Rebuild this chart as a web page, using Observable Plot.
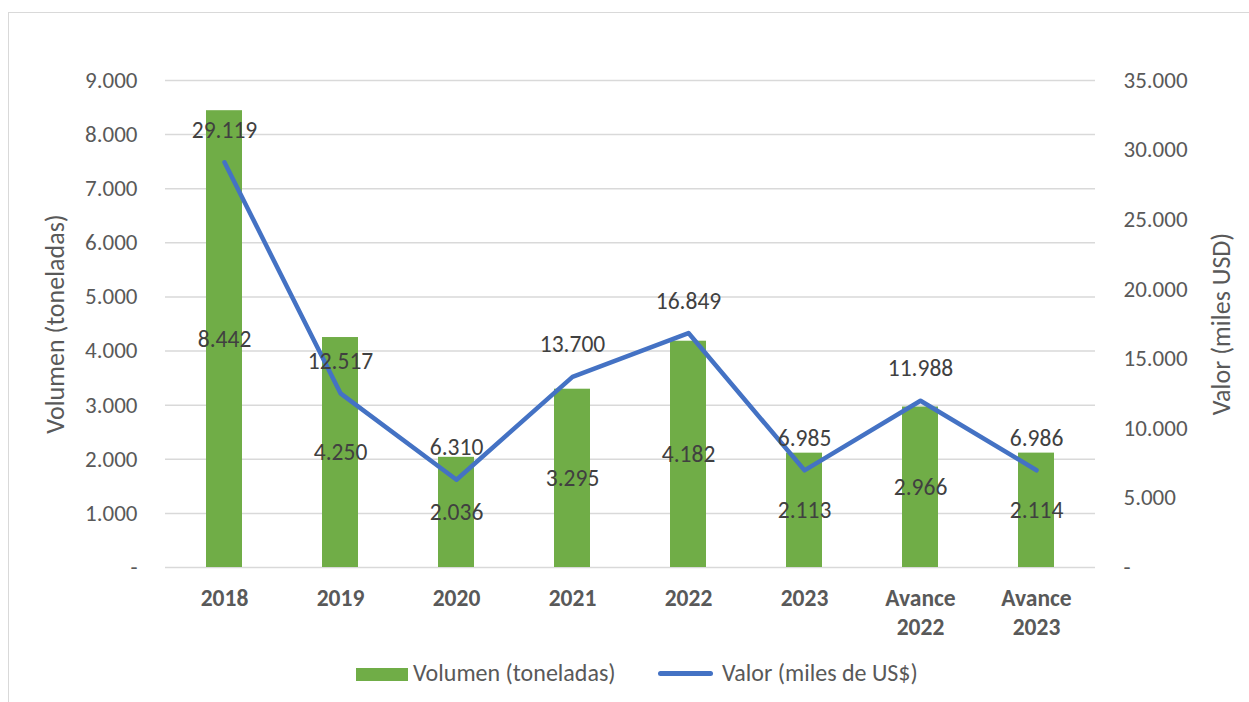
<!DOCTYPE html>
<html>
<head>
<meta charset="utf-8">
<script src="https://cdn.jsdelivr.net/npm/d3@7"></script>
<script src="https://cdn.jsdelivr.net/npm/@observablehq/plot@0.6"></script>
<style>
  body { margin: 0; background: #fff; font-family: Carlito, Calibri, Lato, sans-serif; }
  #frame { position: absolute; left: 8px; top: 12px; width: 1400px; height: 900px;
           border-left: 1.5px solid #d9d9d9; border-top: 1.5px solid #d9d9d9; }
  #chart { position: absolute; left: 0; top: 0; }
  #legend { position: absolute; left: 0; top: 650px; width: 1249px; height: 46px; color: #595959; font-size: 24px; }
  .sw-bar { position: absolute; left: 356px; top: 18px; width: 52px; height: 13px; background: #70AD47; }
  .lab1 { position: absolute; left: 413px; top: 8px; line-height: 30px; }
  .sw-line { position: absolute; left: 658px; top: 21px; width: 55px; height: 5px; border-radius: 3px; background: #4472C4; }
  .lab2 { position: absolute; left: 722px; top: 8px; line-height: 30px; }
</style>
</head>
<body>
<div id="frame"></div>
<div id="chart"></div>
<div id="legend">
  <div class="sw-bar"></div><div class="lab1">Volumen (toneladas)</div>
  <div class="sw-line"></div><div class="lab2">Valor (miles de US$)</div>
</div>
<script>
const categories = ["2018", "2019", "2020", "2021", "2022", "2023", "Avance 2022", "Avance 2023"];
const volumen = [8442, 4250, 2036, 3295, 4182, 2113, 2966, 2114];
const valor = [29119, 12517, 6310, 13700, 16849, 6985, 11988, 6986];
const leftTicks = [0, 1000, 2000, 3000, 4000, 5000, 6000, 7000, 8000, 9000];
const rightTicks = [0, 5000, 10000, 15000, 20000, 25000, 30000, 35000];

const leftMax = 9000, rightMax = 35000;
const toLeft = v => v * leftMax / rightMax;

const loc = d3.formatLocale({decimal: ",", thousands: ".", grouping: [3], currency: ["$", ""]});
const fmt = loc.format(",d");
const tickFmt = v => v === 0 ? "-" : fmt(v);

const data = categories.map((c, i) => ({cat: c, vol: volumen[i], val: valor[i]}));

const FONT = "Carlito, Calibri, Lato, sans-serif";

const chart = Plot.plot({
  width: 1249,
  height: 650,
  marginTop: 80,
  marginBottom: 83,
  marginLeft: 165,
  marginRight: 154,
  style: {fontFamily: FONT, background: "transparent", overflow: "visible"},
  x: {domain: categories, paddingInner: 0.69, paddingOuter: 0.345, label: null},
  y: {domain: [0, leftMax], label: null},
  marks: [
    Plot.ruleY(leftTicks, {stroke: "#d9d9d9", strokeWidth: 1.5}),
    Plot.barY(data, {x: "cat", y: "vol", fill: "#70AD47"}),
    Plot.line(data, {x: "cat", y: d => toLeft(d.val), stroke: "#4472C4", strokeWidth: 4.5,
                     strokeLinecap: "round", strokeLinejoin: "round"}),
    Plot.text(data, {x: "cat", y: d => d.vol / 2, text: d => fmt(d.vol), fill: "#404040",
                     fontSize: 23.5, fontFamily: FONT}),
    Plot.text(data, {x: "cat", y: d => toLeft(d.val), text: d => fmt(d.val), dy: -32, fill: "#404040",
                     fontSize: 23.5, fontFamily: FONT}),
    Plot.axisY({ticks: leftTicks, tickSize: 0, tickPadding: 28, tickFormat: tickFmt,
                fill: "#595959", fontSize: 23, fontFamily: FONT, label: null}),
    Plot.axisY({anchor: "right", ticks: rightTicks.map(toLeft), tickSize: 0, tickPadding: 28,
                tickFormat: d => tickFmt(Math.round(d * rightMax / leftMax)),
                fill: "#595959", fontSize: 23, fontFamily: FONT, label: null}),
    Plot.axisX({tickSize: 0, tickPadding: 18, tickFormat: d => d.replace(" ", "\n"),
                fill: "#595959", fontSize: 23.5, fontWeight: "bold", lineHeight: 1.23,
                fontFamily: FONT, label: null}),
    Plot.text(["Volumen (toneladas)"], {frameAnchor: "left", textAnchor: "middle", dx: -110, rotate: -90,
                text: d => d, fill: "#595959", fontSize: 26, fontFamily: FONT}),
    Plot.text(["Valor (miles USD)"], {frameAnchor: "right", textAnchor: "middle", dx: 126, rotate: -90,
                text: d => d, fill: "#595959", fontSize: 26, fontFamily: FONT})
  ]
});
document.getElementById("chart").appendChild(chart);
</script>
</body>
</html>
